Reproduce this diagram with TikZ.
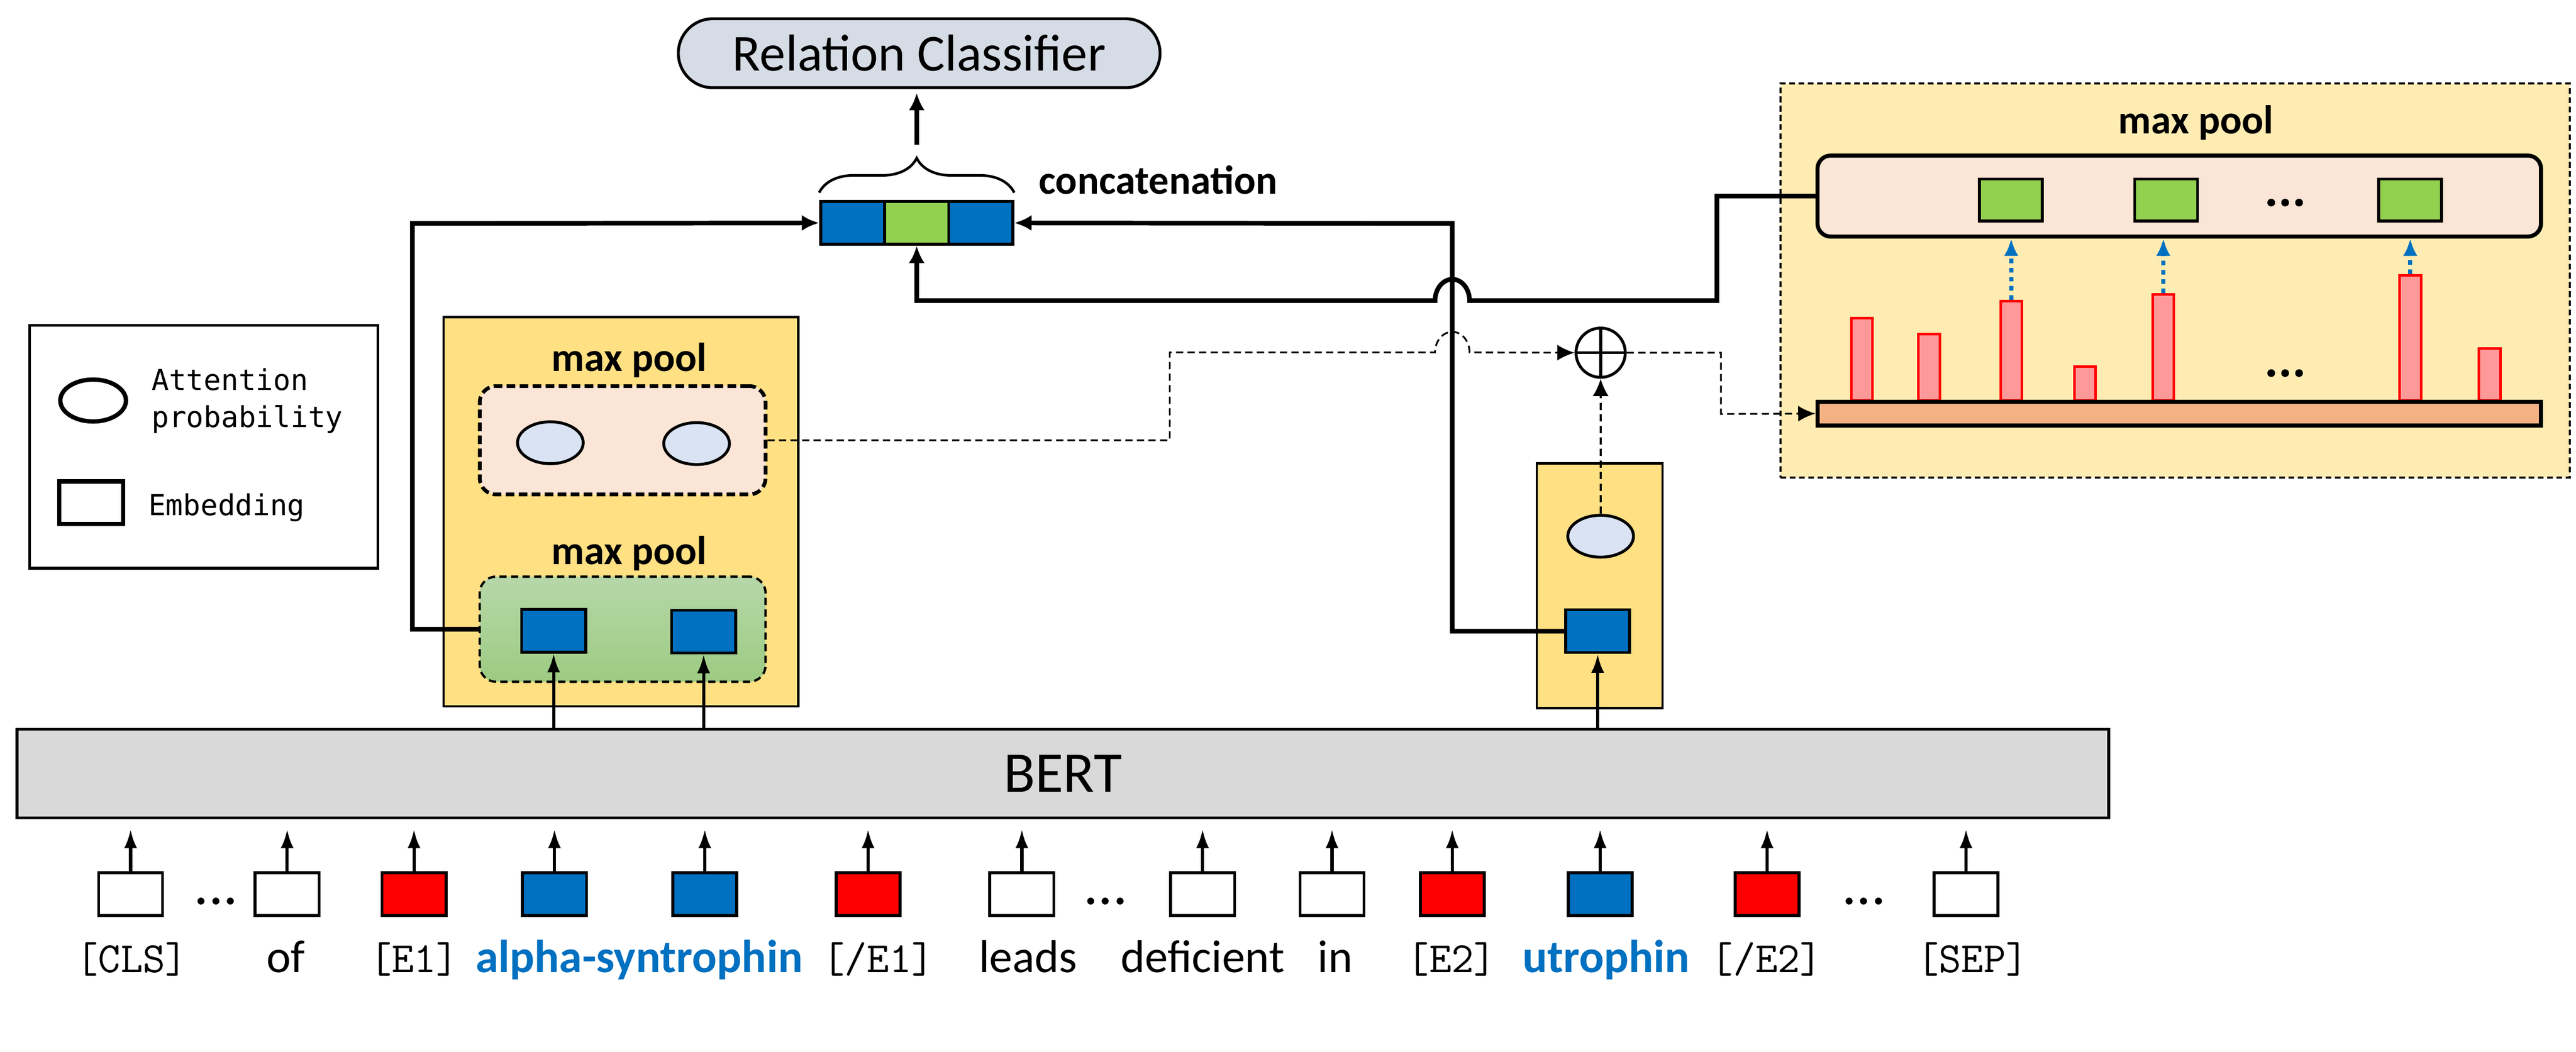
\documentclass[tikz,border=0pt]{standalone}
\usepackage{fontspec}
\setmainfont{Carlito}
\newfontfamily\legfont{DejaVu Sans Mono}
\usetikzlibrary{positioning,arrows.meta,shapes.geometric,shapes.misc,decorations.pathreplacing}
\definecolor{embblue}{HTML}{0070C0}
\definecolor{embred}{HTML}{FF0000}
\definecolor{embgreen}{HTML}{92D050}
\definecolor{poolgold}{HTML}{FFE083}
\definecolor{poollight}{HTML}{FFECB3}
\definecolor{poolpink}{HTML}{FBE5D6}
\definecolor{attblue}{HTML}{DAE3F3}
\definecolor{clsgray}{HTML}{D6DCE5}
\definecolor{bertgray}{HTML}{D9D9D9}
\definecolor{barpink}{HTML}{FF9999}
\definecolor{barorange}{HTML}{F4B183}
\definecolor{greentop}{HTML}{B6D7A8}
\definecolor{greenbot}{HTML}{9DCB82}
\begin{document}
\begin{tikzpicture}[x=0.02cm,y=-0.02cm,
  emb/.style={draw,line width=1pt,minimum width=0.78cm,minimum height=0.52cm,inner sep=0},
  att/.style={ellipse,draw,line width=1pt,fill=attblue,minimum width=0.8cm,minimum height=0.51cm,inner sep=0},
  conn/.style={line width=1.6pt,-{Latex[length=6pt,width=5.5pt]}},
  dconn/.style={line width=0.6pt,dash pattern=on 2.5pt off 1.5pt,-{Latex[length=6pt,width=5.5pt]}},
  up/.style={line width=1.1pt,-{Latex[length=6.5pt,width=4.5pt]}},
  peak/.style={draw=embblue,line width=1.4pt,dash pattern=on 1.6pt off 1.6pt,-{Latex[length=6pt,width=5pt]}},
  bar/.style={draw=embred,line width=0.9pt,fill=barpink,minimum width=0.26cm,inner sep=0,anchor=south},
  pooltitle/.style={font=\bfseries\fontsize{14}{17}\selectfont,anchor=base,inner sep=0},
  dots/.style={font=\fontsize{20}{24}\selectfont,anchor=base,inner sep=0},
  word/.style={font=\fontsize{16}{19}\selectfont,anchor=base,inner sep=0},
  tag/.style={font=\ttfamily\fontsize{15}{18}\selectfont,anchor=base,inner sep=0},
  entity/.style={font=\bfseries\fontsize{16}{19}\selectfont,text=embblue,anchor=base,inner sep=0}]
\useasboundingbox (0,0) rectangle (1568,640.2);

\node[draw,line width=1pt,minimum width=4.24cm,minimum height=2.96cm] (legend) at (124,272) {};
\node[ellipse,draw,line width=1.5pt,minimum width=0.8cm,minimum height=0.51cm] (legatt) at (56.7,243.8) {};
\node[emb,line width=1.5pt] (legemb) at (55.5,306) {};
\node[font=\legfont\fontsize{10}{13}\selectfont,align=left,anchor=west,inner sep=0] (legatttxt) at (92,244) {Attention\\probability};
\node[font=\legfont\fontsize{10}{13}\selectfont,anchor=base west,inner sep=0] (legembtxt) at (90,313.6) {Embedding};

\node[rounded rectangle,draw,line width=1pt,fill=clsgray,minimum width=6.1cm,minimum height=0.84cm,
  font=\fontsize{18}{22}\selectfont] (rc) at (559.5,32.4) {Relation Classifier};
\node[emb,fill=embblue] (c1) at (519,135.7) {};
\node[emb,fill=embgreen,right=-1pt of c1] (c2) {};
\node[emb,fill=embblue,right=-1pt of c2] (c3) {};
\draw[decorate,decoration={brace,amplitude=0.42cm},line width=0.9pt]
  ([yshift=2.6pt]c1.north west) -- ([yshift=2.6pt]c3.north east);
\coordinate (bracetip) at (558,88);
\draw[conn,shorten >=1.3pt] (bracetip) -- (bracetip |- rc.south);
\node[font=\bfseries\fontsize{14}{17}\selectfont,anchor=base west,inner sep=0] (concatlbl) at (632,118) {concatenation};

\node[draw,line width=0.8pt,fill=poolgold,minimum width=4.32cm,minimum height=4.74cm] (lbox) at (378,311.5) {};
\node[pooltitle] (lt1) at (383,226) {max pool};
\node[draw,line width=1.3pt,dash pattern=on 3pt off 1.5pt,rounded corners=0.2cm,fill=poolpink,
  minimum width=3.48cm,minimum height=1.32cm] (pd) at (379,268) {};
\node[att] (a1) at (335,269.5) {};
\node[att] (a2) at (424,270) {};
\node[pooltitle] (lt2) at (383,343.5) {max pool};
\node[draw,line width=0.8pt,dash pattern=on 2.5pt off 1.5pt,rounded corners=0.2cm,top color=greentop,bottom color=greenbot,
  minimum width=3.48cm,minimum height=1.28cm] (g) at (379,383) {};
\node[emb,fill=embblue] (e1) at (337,384) {};
\node[emb,fill=embblue] (e2) at (428.3,384.5) {};

\node[draw,line width=0.8pt,fill=poolgold,minimum width=1.53cm,minimum height=2.98cm] (sbox) at (973.7,356.5) {};
\node[att] (a3) at (974.3,326.4) {};
\node[emb,fill=embblue] (e3) at (972.5,384.2) {};
\node[circle,draw,line width=1pt,minimum size=0.6cm,inner sep=0,
  path picture={\draw[line width=1pt] (path picture bounding box.north) -- (path picture bounding box.south)
    (path picture bounding box.west) -- (path picture bounding box.east);}] (plus) at (974.3,214.7) {};

\node[draw,line width=0.8pt,dash pattern=on 2pt off 1.2pt,fill=poollight,minimum width=9.61cm,minimum height=4.8cm] (rbox) at (1324,170.75) {};
\node[pooltitle] (rt) at (1336.7,81.3) {max pool};
\node[draw,line width=1.4pt,rounded corners=0.16cm,fill=poolpink,minimum width=8.81cm,minimum height=0.986cm] (pool) at (1326.5,119.35) {};
\foreach \x [count=\i] in {1224,1318.5,1467}
  \node[emb,fill=embgreen,minimum width=0.766cm,minimum height=0.512cm] (m\i) at (\x,121.8) {};
\node[dots,font=\bfseries\fontsize{18}{22}\selectfont] (rdots1) at (1391,125.5) {...};
\foreach \x/\t [count=\i] in {1133.3/194.4,1174.2/204.1,1224.2/184.2,1269.2/223.8,1316.8/179.9,1467.1/168.5,1515.5/213}
  \node[bar,minimum height={(244.6-\t)*0.02cm}] (bar\i) at (\x,244.6) {};
\node[dots,font=\bfseries\fontsize{18}{22}\selectfont] (rdots2) at (1391,229.5) {...};
\node[draw,line width=1.4pt,fill=barorange,minimum width=8.81cm,minimum height=0.286cm,inner sep=0] (seq) at (1326.5,251.75) {};
\foreach \i in {3,5,6}
  \draw[peak] (bar\i.north) -- (bar\i.north |- pool.south);

\node[draw,line width=1pt,fill=bertgray,minimum width=25.47cm,minimum height=1.078cm,
  font=\fontsize{20}{24}\selectfont] (bert) at (647,470.9) {BERT};
\foreach \e in {e1,e2,e3}
  \draw[up] (bert.north -| \e.south) -- (\e.south);

\foreach \x/\c [count=\i] in {79.5/white,174.8/white,252/embred,337.5/embblue,429/embblue,528.4/embred,622/white,
    732/white,810.8/white,884/embred,974/embblue,1075.6/embred,1196.7/white}{
  \node[emb,fill=\c] (t\i) at (\x,544.2) {};
  \draw[up,shorten >=3.5pt] (t\i.north) -- (t\i.north |- bert.south);
}
\node[dots] (tdots1) at (131.5,550.5) {...};
\node[dots] (tdots2) at (673,550.5) {...};
\node[dots] (tdots3) at (1134.6,550.5) {...};

\node[tag] (w1) at (80.2,592) {[CLS]};
\node[word] (w2) at (174,592) {of};
\node[tag] (w3) at (252,592) {[E1]};
\node[entity] (w4) at (389,592) {alpha-syntrophin};
\node[tag] (w5) at (534.5,592) {[/E1]};
\node[word] (w6) at (625.7,592) {leads};
\node[word] (w7) at (732,592) {deficient};
\node[word] (w8) at (812.7,592) {in};
\node[tag] (w9) at (883.5,592) {[E2]};
\node[entity] (w10) at (977.6,592) {utrophin};
\node[tag] (w11) at (1075.3,592) {[/E2]};
\node[tag] (w12) at (1200.6,592) {[SEP]};

\draw[conn] (g.west) -| (251,136) -- (c1.west);
\draw[conn] (e3.west) -| (884,136) -- (c3.east);
\draw[conn] (pool.west) -| (1045,183) -- (894.5,183)
  arc[start angle=0,end angle=180,x radius=0.21cm,y radius=0.26cm] -- (c2.south |- 0,183) -- (c2.south);
\draw[dconn] (pd.east) -| (712,214.5) -- (873.5,214.5)
  arc[start angle=180,end angle=0,x radius=0.21cm,y radius=0.25cm] -- (plus.west);
\draw[dconn] (a3.north) -- (plus.south);
\draw[dconn] (plus.east) -| (1047.5,252) -- (seq.west);
\end{tikzpicture}
\end{document}
